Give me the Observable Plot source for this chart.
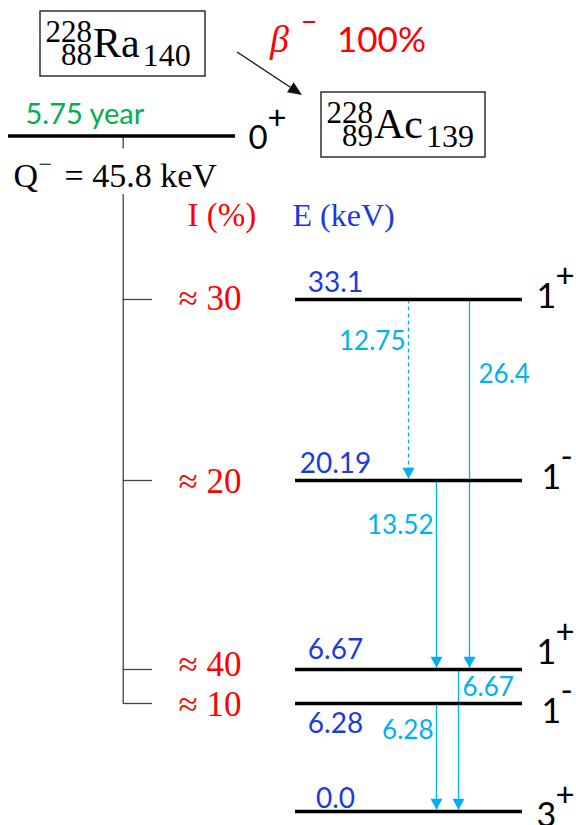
<!DOCTYPE html>
<html>
<head>
<meta charset="utf-8">
<script src="https://cdn.jsdelivr.net/npm/d3@7"></script>
<script src="https://cdn.jsdelivr.net/npm/@observablehq/plot@0.6"></script>
<style>
  html, body { margin: 0; padding: 0; background: #fff; }
  #chart { width: 576px; height: 825px; }
</style>
</head>
<body>
<div id="chart"></div>
<script>
// ================= DATA =================
const nuclideSymbol = ["Ra", "Ac"];
const nuclideMass   = ["228", "228"];
const nuclideZ      = ["88", "89"];
const nuclideN      = ["140", "139"];

const decaySymbol = "β";
const decayCharge = "−";
const decayBranch = "100%";

const halfLife     = "5.75 year";
const qValue       = 45.8;          // keV
const qText        = "45.8 keV";
const parentSpin   = "0";
const parentParity = "+";

const levelEnergy = [33.1, 20.19, 6.67, 6.28, 0.0];
const levelText   = ["33.1", "20.19", "6.67", "6.28", "0.0"];
const levelSpin   = ["1", "1", "1", "1", "3"];
const levelParity = ["+", "-", "+", "-", "+"];

const feedEnergy    = [33.1, 20.19, 6.67, 6.28];
const feedIntensity = ["≈ 30", "≈ 20", "≈ 40", "≈ 10"];

const gammaFrom   = [33.1, 33.1, 20.19, 6.67, 6.28];
const gammaTo     = [20.19, 6.67, 6.67, 0.0, 0.0];
const gammaText   = ["12.75", "26.4", "13.52", "6.67", "6.28"];
const gammaDashed = [true, false, false, false, false];

const headerIntensity = "I (%)";
const headerEnergy    = "E (keV)";

// ================= LAYOUT (not to scale diagram) =================
const W = 576, H = 825;
const yDomain = [0, 6.28, 6.67, 20.19, 33.1, qValue];
const yRange  = [811, 703, 669, 480, 299, 135.5];
const col = {branch: 122.7, tickEnd: 152, intensity: 178, levelStart: 295, levelEnd: 522,
             levelLabel: 335, parentStart: 8, parentEnd: 235};
const levelLabelDy = [-8, -8, -11, 29, -4];
const spinDy       = [8, 8, -6, 19, 15];
const intensityDy  = [10, 12, 6, 12];
const gammaX       = [408, 469, 436, 458, 436];
const gammaAnchor  = ["end", "start", "end", "start", "end"];
const gammaLabelDx = [-3, 9, -3, 4, -3];
const gammaLabelDy = [50, 83, 53, 26, 35];
const boxLayout    = [[40, 11, 165, 65], [321, 92, 164, 65]];
const betaArrow    = [[237, 52], [302, 95]];

const RED = "#ff0000", BLUE = "#1a3be0", LBLUE = "#00b0f0", GREEN = "#00b050", GREY = "#444";
const SANS = "Lato, 'Open Sans', sans-serif";
const SERIF = "'Liberation Serif', 'DejaVu Serif', serif";

// ================= TABLES =================
const levels = levelEnergy.map((e, i) => ({energy: e, text: levelText[i], spin: levelSpin[i], parity: levelParity[i], i}));
const feeds = feedEnergy.map((e, i) => ({energy: e, text: feedIntensity[i], i}));
const gammas = gammaFrom.map((f, i) => ({from: f, to: gammaTo[i], text: gammaText[i], dashed: gammaDashed[i], x: gammaX[i], i}));

// down-pointing filled triangle, tip at the anchor point
const downTriangle = {
  draw(ctx) {
    const w = 6, h = 11;
    ctx.moveTo(-w, -h); ctx.lineTo(w, -h); ctx.lineTo(0, 0); ctx.closePath();
  }
};

// header: nuclide boxes, beta label and arrow
function header() {
  const g = d3.create("svg:g").attr("text-anchor", "start");
  nuclideSymbol.forEach((sym, i) => {
    const [bx, by, bw, bh] = boxLayout[i];
    g.append("rect").attr("x", bx).attr("y", by).attr("width", bw).attr("height", bh)
      .attr("fill", "none").attr("stroke", "#222").attr("stroke-width", 1.4);
    const ax = bx + 52;
    g.append("text").attr("x", ax).attr("y", by + 31).attr("text-anchor", "end")
      .style("font-family", SERIF).style("font-size", "31px").text(nuclideMass[i]);
    g.append("text").attr("x", ax).attr("y", by + 54).attr("text-anchor", "end")
      .style("font-family", SERIF).style("font-size", "31px").text(nuclideZ[i]);
    const t = g.append("text").attr("x", ax + 1).attr("y", by + 46).attr("text-anchor", "start")
      .style("font-family", SERIF);
    t.append("tspan").style("font-size", "42px").text(sym);
    t.append("tspan").style("font-size", "32px").attr("dy", 9).attr("dx", 3).text(nuclideN[i]);
  });
  const b = g.append("text").attr("x", 270).attr("y", 52).attr("text-anchor", "start").attr("fill", RED);
  b.append("tspan").style("font-family", SERIF).style("font-style", "italic").style("font-size", "38px").text(decaySymbol);
  b.append("tspan").style("font-family", SANS).style("font-size", "28px").attr("dx", 12).attr("dy", -20).text(decayCharge);
  b.append("tspan").style("font-family", SANS).style("font-size", "35px").attr("x", 337).attr("dy", 20).text(decayBranch);
  const [[x0, y0], [x1, y1]] = betaArrow;
  const len = Math.hypot(x1 - x0, y1 - y0), ux = (x1 - x0) / len, uy = (y1 - y0) / len;
  const hl = 14, hw = 6, bxp = x1 - hl * ux, byp = y1 - hl * uy;
  g.append("line").attr("x1", x0).attr("y1", y0).attr("x2", bxp).attr("y2", byp)
    .attr("stroke", "#111").attr("stroke-width", 1.3);
  g.append("path").attr("fill", "#111")
    .attr("d", `M${x1},${y1}L${bxp - hw * uy},${byp + hw * ux}L${bxp + hw * uy},${byp - hw * ux}Z`);
  return g.node();
}

const marks = [
  // beta feeding branch
  Plot.ruleX([col.branch], {y1: qValue, y2: qValue, insetBottom: -13, stroke: GREY, strokeWidth: 1.3}),
  Plot.ruleX([col.branch], {y1: qValue, y2: 6.28, insetTop: 58.5, stroke: GREY, strokeWidth: 1.3}),
  Plot.ruleY(feedEnergy, {x1: col.branch, x2: col.tickEnd, stroke: GREY, strokeWidth: 1.3}),
  ...feeds.map(d => Plot.text([d], {x: col.intensity, y: "energy", text: "text", textAnchor: "start",
      lineAnchor: "bottom", dy: intensityDy[d.i], fill: RED, fontFamily: SERIF, fontSize: 35})),
  // column headers
  Plot.text([headerIntensity], {x: 187, y: qValue, text: d => d, textAnchor: "start", lineAnchor: "bottom",
      dy: 89.5, fill: RED, fontFamily: SERIF, fontSize: 33}),
  Plot.text([headerEnergy], {x: 292, y: qValue, text: d => d, textAnchor: "start", lineAnchor: "bottom",
      dy: 89.5, fill: BLUE, fontFamily: SERIF, fontSize: 32}),
  // parent level
  Plot.ruleY([qValue], {x1: col.parentStart, x2: col.parentEnd, stroke: "black", strokeWidth: 3.5}),
  Plot.text([halfLife], {x: 25, y: qValue, text: d => d, textAnchor: "start", lineAnchor: "bottom",
      dy: -12.5, fill: GREEN, fontFamily: SANS, fontSize: 29}),
  Plot.text([parentSpin], {x: 248, y: qValue, text: d => d, textAnchor: "start", lineAnchor: "bottom",
      dy: 12.5, fill: "black", fontFamily: SANS, fontSize: 33}),
  Plot.text([parentParity], {x: 267, y: qValue, text: d => d, textAnchor: "start", lineAnchor: "middle",
      dy: -17.5, fill: "black", fontFamily: SANS, fontSize: 33}),
  Plot.text(["Q"], {x: 13, y: qValue, text: d => d, textAnchor: "start", lineAnchor: "bottom",
      dy: 50.5, fill: "black", fontFamily: SERIF, fontSize: 34}),
  Plot.text(["−"], {x: 38, y: qValue, text: d => d, textAnchor: "start", lineAnchor: "middle",
      dy: 28, fill: "black", fontFamily: SERIF, fontSize: 24}),
  Plot.text([qText], {x: 64, y: qValue, text: d => "= " + d, textAnchor: "start", lineAnchor: "bottom",
      dy: 50.5, fill: "black", fontFamily: SERIF, fontSize: 34}),
  // gamma transitions
  Plot.link(gammas, {filter: d => d.dashed, x1: "x", x2: "x", y1: "from", y2: "to", stroke: LBLUE,
      strokeWidth: 1.3, strokeDasharray: "4,3"}),
  Plot.link(gammas, {filter: d => !d.dashed, x1: "x", x2: "x", y1: "from", y2: "to", stroke: LBLUE,
      strokeWidth: 1.3}),
  // daughter levels
  Plot.ruleY(levelEnergy, {x1: col.levelStart, x2: col.levelEnd, stroke: "black", strokeWidth: 3.5}),
  Plot.dot(gammas, {x: "x", y: "to", symbol: downTriangle, r: 5, fill: LBLUE, stroke: null, dy: -1.8}),
  ...gammas.map(d => Plot.text([d], {x: "x", y: "from", text: "text", textAnchor: gammaAnchor[d.i],
      lineAnchor: "bottom", dx: gammaLabelDx[d.i], dy: gammaLabelDy[d.i], fill: LBLUE, fontFamily: SANS, fontSize: 26})),
  ...levels.map(d => Plot.text([d], {x: col.levelLabel, y: "energy", text: "text", textAnchor: "middle",
      lineAnchor: "bottom", dy: levelLabelDy[d.i], fill: BLUE, fontFamily: SANS, fontSize: 28})),
  ...levels.map(d => Plot.text([d], {x: d.parity === "+" ? 536 : 541, y: "energy", text: "spin", textAnchor: "start",
      lineAnchor: "bottom", dy: spinDy[d.i], fill: "black", fontFamily: SANS, fontSize: 34})),
  ...levels.map(d => Plot.text([d], {x: d.parity === "+" ? 555 : 560, y: "energy", text: "parity", textAnchor: "start",
      lineAnchor: "middle", dy: spinDy[d.i] - 31, fill: "black", fontFamily: SANS, fontSize: 33})),
  header
];

const chart = Plot.plot({
  width: W, height: H, margin: 0,
  x: {type: "linear", domain: [0, W], range: [0, W], axis: null},
  y: {type: "linear", domain: yDomain, range: yRange, axis: null},
  style: {background: "white", overflow: "visible", fontFamily: SANS},
  marks
});
document.getElementById("chart").appendChild(chart);
</script>
</body>
</html>
